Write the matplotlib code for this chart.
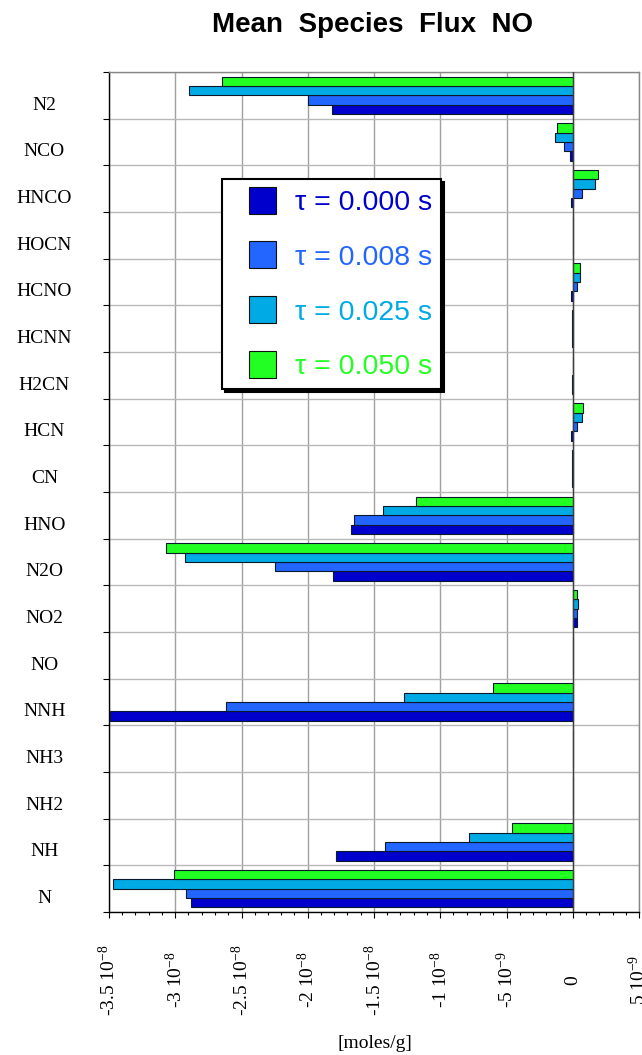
import numpy as np
import matplotlib
matplotlib.use('Agg')
import matplotlib.pyplot as plt
from matplotlib.patches import Patch, Rectangle
from matplotlib.legend_handler import HandlerPatch
from matplotlib.ticker import MultipleLocator

plt.rcParams['font.family'] = ['Liberation Serif', 'DejaVu Serif']
plt.rcParams['mathtext.fontset'] = 'custom'
plt.rcParams['mathtext.rm'] = 'Liberation Serif'
plt.rcParams['mathtext.default'] = 'regular'

# species, top to bottom as in the chart
species = ['N2', 'NCO', 'HNCO', 'HOCN', 'HCNO', 'HCNN', 'H2CN', 'HCN', 'CN',
           'HNO', 'N2O', 'NO2', 'NO', 'NNH', 'NH3', 'NH2', 'NH', 'N']

times = ['0.000', '0.008', '0.025', '0.050']

# mean flux in units of 1e-9 moles/g
flux_000 = [-18.2, -0.18, -0.10, 0.0, -0.10, -0.06, -0.05, -0.10, -0.05,
            -16.7, -18.1, 0.30, 0.0, -34.9, 0.0, 0.0, -17.9, -28.8]
flux_008 = [-20.0, -0.68, 0.71, 0.0, 0.35, -0.03, -0.03, 0.30, -0.03,
            -16.5, -22.5, 0.30, 0.0, -26.2, 0.0, 0.0, -14.2, -29.2]
flux_025 = [-29.0, -1.31, 1.71, 0.0, 0.56, -0.02, 0.02, 0.71, -0.02,
            -14.3, -29.3, 0.38, 0.0, -12.7, 0.0, 0.0, -7.8, -34.7]
flux_050 = [-26.5, -1.21, 1.92, 0.0, 0.56, -0.02, 0.03, 0.80, -0.03,
            -11.8, -30.7, 0.30, 0.0, -6.0, 0.0, 0.0, -4.6, -30.1]

colors = ['#0000cc', '#2266ff', '#00aae4', '#22ff22']

xticks = [-3.5e-8, -3e-8, -2.5e-8, -2e-8, -1.5e-8, -1e-8, -5e-9, 0, 5e-9]
xtick_labels = ['-3.5 10$^{-8}$', '-3 10$^{-8}$', '-2.5 10$^{-8}$', '-2 10$^{-8}$',
                '-1.5 10$^{-8}$', '-1 10$^{-8}$', '-5 10$^{-9}$', '0', '5 10$^{-9}$']

fig = plt.figure(figsize=(6.42, 10.55), dpi=100)
ax = fig.add_axes([109 / 642, 1 - 912 / 1055, 530 / 642, 840 / 1055])

y = np.arange(len(species))
series = [flux_000, flux_008, flux_025, flux_050]
offsets = [0.3, 0.1, -0.1, -0.3]
for vals, off, c in zip(series, offsets, colors):
    ax.barh(y + off, np.array(vals) * 1e-9, height=0.2, color=c,
            edgecolor='#0a1a2a', linewidth=0.8, zorder=3)

ax.set_xlim(-3.5e-8, 5e-9)
ax.set_ylim(len(species) - 0.5, -0.5)

# y: ticks on category boundaries, labels a bit below centre
ax.set_yticks(np.arange(len(species) + 1) - 0.5)
ax.set_yticklabels([])
ax.set_yticks(y + 0.17, minor=True)
ax.set_yticklabels(species, minor=True, ha='center', fontsize=14)
ax.tick_params(axis='y', which='minor', length=0, pad=46.5)
ax.tick_params(axis='y', which='major', length=4.3, width=0.8, direction='out')

# x ticks
ax.set_xticks(xticks)
ax.set_xticklabels(xtick_labels, rotation=90, va='center', ha='center', fontsize=14)
ax.xaxis.set_minor_locator(MultipleLocator(1e-9))
ax.tick_params(axis='x', which='major', length=4.3, width=0.8, pad=44.6)
ax.tick_params(axis='x', which='minor', length=2.2, width=0.8)

ax.set_axisbelow(True)
ax.grid(axis='x', which='major', color='#a0a0a0', lw=1)
ax.grid(axis='y', which='major', color='#b8b8b8', lw=1)
ax.axvline(0, color='#404040', lw=1, zorder=4)

for s in ['left', 'bottom']:
    ax.spines[s].set_color('black')
    ax.spines[s].set_linewidth(1)
for s in ['top', 'right']:
    ax.spines[s].set_color('#888888')
    ax.spines[s].set_linewidth(1)


def square_patch(legend, orig_handle, xdescent, ydescent, width, height, fontsize):
    side = 27 * 0.72
    return Rectangle((-xdescent + width - side, -ydescent + (height - side) / 2), side, side)


handles = [Patch(facecolor=c, edgecolor='#101010', linewidth=0.8) for c in colors]
labels = [f'τ = {t} s' for t in times]
leg = ax.legend(handles, labels, loc='upper left', bbox_to_anchor=(0.2132, 0.8723),
                borderaxespad=0, prop={'family': ['Liberation Sans', 'DejaVu Sans'], 'size': 20.5},
                handlelength=1.61, handleheight=0.95, handletextpad=0.67,
                labelspacing=0.94, borderpad=0.3, fancybox=False, framealpha=1,
                edgecolor='black', shadow={'color': 'black', 'alpha': 1},
                handler_map={Patch: HandlerPatch(patch_func=square_patch)})
leg.get_frame().set_linewidth(1.5)
for txt, c in zip(leg.get_texts(), colors):
    txt.set_color(c)

fig.text(373 / 642, 1 - 31.7 / 1055, 'Mean  Species  Flux  NO', ha='center',
         va='baseline', fontsize=20, fontweight='bold',
         family=['Liberation Sans', 'DejaVu Sans'])
fig.text(375 / 642, 1 - 1044 / 1055, '[moles/g]', ha='center', va='center', fontsize=14)

fig.savefig('out.png', dpi=100)
